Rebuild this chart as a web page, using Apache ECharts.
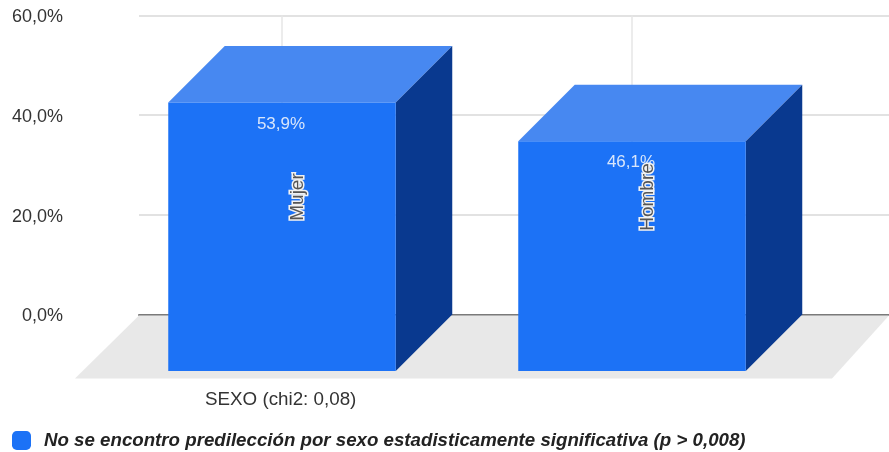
<!DOCTYPE html>
<html>
<head>
<meta charset="utf-8">
<style>html,body{margin:0;padding:0;background:#fff}#c{width:889px;height:452px}</style>
<script src="https://cdn.jsdelivr.net/npm/echarts@6/dist/echarts.min.js"></script>
</head>
<body>
<div id="c"></div>
<script>
// Share of cases by sex
const categories = ['Mujer', 'Hombre'];
const shares = [53.9, 46.1];
const legendText = 'No se encontro predilección por sexo estadisticamente significativa (p > 0,008)';
const axisTitle = 'SEXO (chi2: 0,08)';

const FONT = '"Liberation Sans", Arial, sans-serif';
const DEPTH = 56.5;      // oblique depth of the boxes
const BAR_RATIO = 0.65;  // box width relative to its category band
const FRONT = '#1c72f6', TOP = '#4788f1', SIDE = '#09398f';
const pct = v => v.toFixed(1).replace('.', ',') + '%';

const chart = echarts.init(document.getElementById('c'), null, {renderer: 'canvas'});

chart.setOption({
  animation: false,
  backgroundColor: '#fff',
  title: {
    text: axisTitle, left: 200, top: 385,
    textStyle: {fontFamily: FONT, fontSize: 18.8, fontWeight: 'normal', color: '#333'}
  },
  legend: {
    left: 12, top: 431, itemWidth: 19, itemHeight: 19, itemGap: 10, padding: 0,
    icon: 'roundRect', data: [legendText],
    textStyle: {fontFamily: FONT, fontSize: 18.7, fontWeight: 'bold', fontStyle: 'italic', color: '#222', padding: [2, 0, 0, 8]}
  },
  grid: [
    {left: 139, right: 0, top: 15.5, height: 299},   // back wall
    {left: 107, width: 700, top: 15.5, height: 299}  // box positions
  ],
  xAxis: [
    {gridIndex: 0, type: 'value', min: 0, max: 1, axisLabel: {show: false}, axisTick: {show: false},
     splitLine: {show: false}, axisLine: {show: true, lineStyle: {color: '#7a7a7a', width: 2}}},
    {gridIndex: 1, type: 'category', data: categories, show: false}
  ],
  yAxis: [
    {gridIndex: 0, type: 'value', min: 0, max: 60, interval: 20,
     axisLine: {show: false}, axisTick: {show: false},
     axisLabel: {margin: 76, formatter: v => '{t|' + pct(v) + '}',
       rich: {t: {fontFamily: FONT, fontSize: 18, color: '#333', padding: [4, 0, 0, 0]}}},
     splitLine: {lineStyle: {color: '#e2e2e2', width: 2}}},
    {gridIndex: 1, type: 'value', min: 0, max: 60, interval: 20, show: false}
  ],
  series: [
    { // floor under the boxes
      type: 'custom', name: 'floor', xAxisIndex: 0, yAxisIndex: 0, z: 1, silent: true,
      data: [[0, 0]],
      renderItem: (p, api) => {
        const a = api.coord([0, 0]), b = api.coord([1, 0]);
        const y = a[1] + 1, d = 64;
        return {type: 'polygon', shape: {points: [[a[0], y], [b[0], y], [b[0] - d + 7, y + d - 1], [a[0] - d, y + d - 1]]},
                style: {fill: '#e8e8e8'}};
      }
    },
    { // vertical guide through each category
      type: 'custom', name: 'guides', xAxisIndex: 1, yAxisIndex: 1, z: 1, silent: true,
      data: categories.map((c, i) => [i, 60]),
      encode: {x: 0, y: 1},
      renderItem: (p, api) => {
        const t = api.coord([api.value(0), 60]), b = api.coord([api.value(0), 0]);
        return {type: 'line', shape: {x1: t[0], y1: t[1], x2: b[0], y2: b[1]},
                style: {stroke: '#e6e6e6', lineWidth: 1.5}};
      }
    },
    { // oblique boxes: the value is read on the back wall, the front face is shifted by DEPTH
      type: 'custom', name: legendText, xAxisIndex: 1, yAxisIndex: 1, z: 3,
      itemStyle: {color: FRONT},
      data: categories.map((c, i) => [i, shares[i]]),
      encode: {x: 0, y: 1},
      renderItem: (p, api) => {
        const i = api.value(0), v = api.value(1);
        const top = api.coord([i, v]), base = api.coord([i, 0]);
        const w = api.size([1, 0])[0] * BAR_RATIO;
        const l = top[0] - w / 2, r = top[0] + w / 2;
        const yt = top[1], yb = base[1];
        return {type: 'group', children: [
          {type: 'polygon', shape: {points: [[l, yt + DEPTH], [l + DEPTH, yt], [r + DEPTH, yt], [r, yt + DEPTH]]}, style: {fill: TOP}},
          {type: 'polygon', shape: {points: [[r, yt + DEPTH], [r + DEPTH, yt], [r + DEPTH, yb], [r, yb + DEPTH]]}, style: {fill: SIDE}},
          {type: 'rect', shape: {x: l, y: yt + DEPTH, width: w, height: yb - yt}, style: {fill: FRONT}},
          {type: 'text', x: top[0] - 1, y: yt + DEPTH + 21.5,
           style: {text: pct(v), fill: '#d9e6fb', font: '17px ' + FONT, align: 'center', verticalAlign: 'middle'}},
          {type: 'text', x: top[0] + 15.5, y: yb - 117.5, rotation: Math.PI / 2,
           style: {text: categories[i], fill: '#555', stroke: '#f2f2f2', lineWidth: 3, font: '19px ' + FONT, align: 'center', verticalAlign: 'middle'}}
        ]};
      }
    }
  ]
});
</script>
</body>
</html>
